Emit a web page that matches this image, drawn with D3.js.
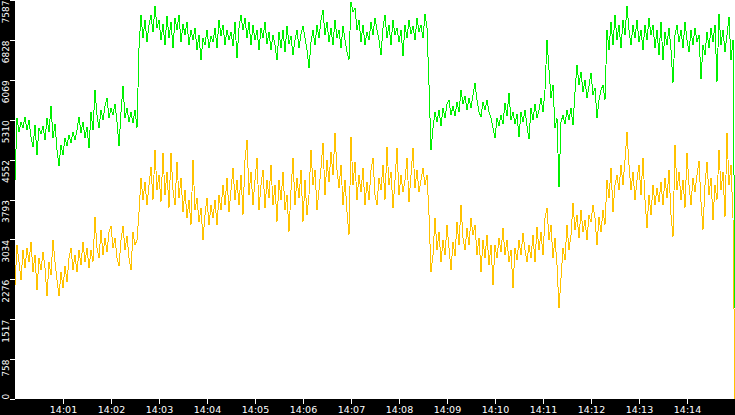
<!DOCTYPE html>
<html><head><meta charset="utf-8">
<script src="https://cdn.jsdelivr.net/npm/d3@7"></script>
<style>html,body{margin:0;padding:0;background:#fff;overflow:hidden}svg{display:block}</style>
</head><body><svg id="c" width="735" height="415"></svg>
<script>
const startTime = new Date(2024, 0, 1, 14, 0, 0);
const endTime = new Date(2024, 0, 1, 14, 15, 0);
const sampleSeconds = 2.5;
const yMax = 7587;
const xTickLabels = ["14:01","14:02","14:03","14:04","14:05","14:06","14:07","14:08","14:09","14:10","14:11","14:12","14:13","14:14"];
const yTickLabels = ["0","758","1517","2276","3034","3793","4552","5310","6069","6828","7587"];

const greenValues = [
4164,5343,5077,5267,5153,5362,5115,5305,4982,4792,
5210,4640,5153,5039,5191,4925,5343,5077,5571,4963,
5229,4735,4431,4830,4640,4963,4811,5020,4868,5077,
4925,5115,5362,5058,5267,4963,5172,4773,5457,5115,
5876,5400,5153,5495,5305,5571,5724,5343,5533,5400,
5609,5267,4811,5457,5952,5343,5533,5267,5457,5248,
5495,5153,6674,7302,6864,7207,6788,7112,7302,6979,
7473,7055,7207,6826,7131,6731,7283,6864,7169,6674,
7245,7017,7302,6788,7131,6921,7169,6731,7017,6826,
7055,6636,6921,6446,6864,6731,7017,6674,6902,6788,
7055,6674,7207,6902,7112,6731,7017,6826,6979,6712,
7169,6484,7055,7302,7017,7245,6864,7169,6731,7112,
6826,7017,6636,7055,6864,7169,6750,6979,6636,6921,
6731,6446,6979,6674,7017,6598,7093,6750,6902,6541,
6826,7017,6674,6940,7093,6864,6636,6294,6788,7017,
6731,7112,6864,7207,7397,6921,7169,6788,7055,6731,
7207,6864,7017,6674,7093,6826,6598,6446,7549,7359,
7435,7017,7207,6788,7112,6731,6979,6826,7169,6921,
7245,7017,6826,6541,7055,7302,6864,7112,6731,7207,
6921,7055,6788,7017,6522,7112,6864,7207,6940,7093,
6826,7245,6979,7112,6864,7321,7055,5971,4735,5153,
5457,5267,5495,5191,5533,5343,5609,5685,5400,5571,
5381,5647,5457,5876,5609,5762,5495,5724,5533,5781,
6009,5685,5457,5362,5647,5495,5685,5457,5343,5153,
4963,5343,5191,5400,5229,5629,5381,5819,5305,5457,
5229,5419,4982,5457,5267,5495,5191,4944,5533,5305,
5609,5343,5495,5724,5457,5876,6826,6256,5724,5971,
5153,5343,4031,5267,5400,5229,5495,5305,5533,5210,
5838,6351,5971,6218,5838,6066,5724,5952,6199,5781,
5914,5343,5685,5876,5971,5685,7017,6636,7169,6731,
7302,6826,7112,6674,7207,6921,7473,7017,6731,7112,
6864,7207,6788,7017,6636,7112,6826,7245,6921,7112,
6674,7017,6541,7169,6446,6979,6731,7055,6636,6009,
6921,7112,6788,7017,6674,7169,6826,6598,7017,6731,
7055,6788,6921,6085,6731,6541,6979,6674,7055,6788,
7112,6028,7321,6731,7017,6598,6921,7264,6446,6826,
1730
];

const yellowValues = [
2168,2928,2605,2263,2833,2491,2871,2605,2985,2415,
2738,2073,2681,2453,2795,2491,1959,2605,2358,3023,
2605,2263,1959,2415,2111,2529,2225,2681,2871,2453,
2738,2415,2833,2548,2985,2605,2871,2491,2833,2605,
3461,2871,2681,3214,2738,3061,2795,3176,3290,2871,
3061,2681,2529,3023,3290,2833,3099,2681,2453,3176,
2928,3023,3556,4202,3784,4126,3689,4069,4411,3784,
4735,3974,4259,3746,4678,3879,4316,3632,4678,3974,
3689,4507,3822,4202,3556,3974,3442,3784,3309,4545,
3594,3822,3366,3632,3023,3499,3822,3309,3689,3442,
3784,3309,3879,3594,4069,3689,4202,3556,3974,4392,
3784,4164,3689,4259,3499,4545,4925,3879,4316,3689,
4164,4583,3594,4069,4354,3632,4164,3822,4450,3689,
4069,3366,4164,3784,4316,3594,3879,3176,3974,4583,
3689,4202,3822,4354,3366,4164,3499,3879,4735,4069,
4354,3594,3974,4392,4868,3879,4545,4126,4697,4259,
5058,4354,4012,4450,3689,4164,3556,3118,4982,4069,
4507,3784,4259,3936,4392,3689,4126,3784,4354,4583,
3879,3689,4202,3974,4450,3784,4792,4069,4316,3632,
4164,4773,3879,4259,3936,4164,4583,3746,4259,4773,
4012,4354,3936,4164,4392,4069,4259,3499,2415,2738,
3442,2833,3176,2605,3023,2738,3309,2871,2453,2985,
2719,3366,2928,3689,3061,2833,3252,2928,3442,3118,
3309,2738,3061,2415,3023,2681,3118,2548,2928,2168,
2928,2681,3061,2795,3252,2738,3023,2605,2833,2111,
2871,2643,3023,2738,3157,2833,2605,2928,2681,3118,
2605,3271,2833,3176,2738,3442,3632,3023,3309,2681,
3061,2548,1730,2301,2871,2643,3309,2833,3118,3727,
3214,3499,3061,3594,3176,3404,3023,3499,3366,3689,
3442,2928,3461,3176,3594,3309,4164,3822,4392,3556,
4069,4259,3974,4450,4069,4545,5077,4450,3974,4316,
3784,4164,4450,3879,4583,3784,3252,3879,3499,4069,
3689,4012,3746,4126,3689,4202,3822,4354,3499,3080,
4830,3974,4316,3784,4164,3632,4678,4069,3689,4202,
3936,4259,4526,3746,3214,4069,4507,3879,4202,3404,
4069,3784,4735,3974,4316,3461,5058,4069,4450,3442,
0
];

const W = 735, H = 415;
const left = 15, bottom = 399;
const svg = d3.select("#c");

const x = d3.scaleTime().domain([startTime, endTime]).range([left, W]);
const y = d3.scaleLinear().domain([0, yMax]).range([bottom, 0]);
const timeAt = i => new Date(startTime.getTime() + i * sampleSeconds * 1000);

svg.append("rect").attr("x", 0).attr("y", 0).attr("width", W).attr("height", H).attr("fill", "#fff");

const line = d3.line().x((d, i) => x(timeAt(i))).y(d => y(d));

svg.append("path").datum(greenValues)
  .attr("d", line).attr("fill", "none").attr("stroke", "#00f000")
  .attr("stroke-width", 1).attr("shape-rendering", "crispEdges");
svg.append("path").datum(yellowValues)
  .attr("d", line).attr("fill", "none").attr("stroke", "#ffc200")
  .attr("stroke-width", 1).attr("shape-rendering", "crispEdges");

svg.append("rect").attr("x", 0).attr("y", 0).attr("width", left).attr("height", H).attr("fill", "#000");
svg.append("rect").attr("x", 0).attr("y", bottom).attr("width", W).attr("height", H - bottom).attr("fill", "#000");

const font = "'DejaVu Sans', sans-serif";

const xTicks = xTickLabels.map(s => { const p = s.split(":"); return new Date(2024, 0, 1, +p[0], +p[1], 0); });
const xAxis = svg.append("g").attr("transform", `translate(0,${bottom})`)
  .call(d3.axisBottom(x).tickValues(xTicks).tickFormat(d3.timeFormat("%H:%M")).tickSize(5).tickSizeOuter(0));
xAxis.select(".domain").remove();
xAxis.selectAll("line").attr("stroke", "#fff").attr("shape-rendering", "crispEdges");
xAxis.selectAll("text").attr("fill", "#fff").attr("y", 7.5).style("font-family", font).style("font-size", "9.5px");

const yTicks = yTickLabels.map(Number);
const yAxis = svg.append("g").attr("transform", `translate(${left},0)`)
  .call(d3.axisLeft(y).tickValues(yTicks).tickFormat((d, i) => yTickLabels[i]).tickSize(5).tickSizeOuter(0));
yAxis.select(".domain").remove();
yAxis.selectAll("line").attr("stroke", "#fff").attr("shape-rendering", "crispEdges");
yAxis.selectAll("text")
  .attr("x", null).attr("dy", null).attr("y", null)
  .attr("fill", "#fff")
  .style("font-family", font).style("font-size", "9px")
  .attr("text-anchor", d => d === 0 ? "start" : "end")
  .attr("transform", "translate(-6,0) rotate(-90)");
</script>
</body></html>
